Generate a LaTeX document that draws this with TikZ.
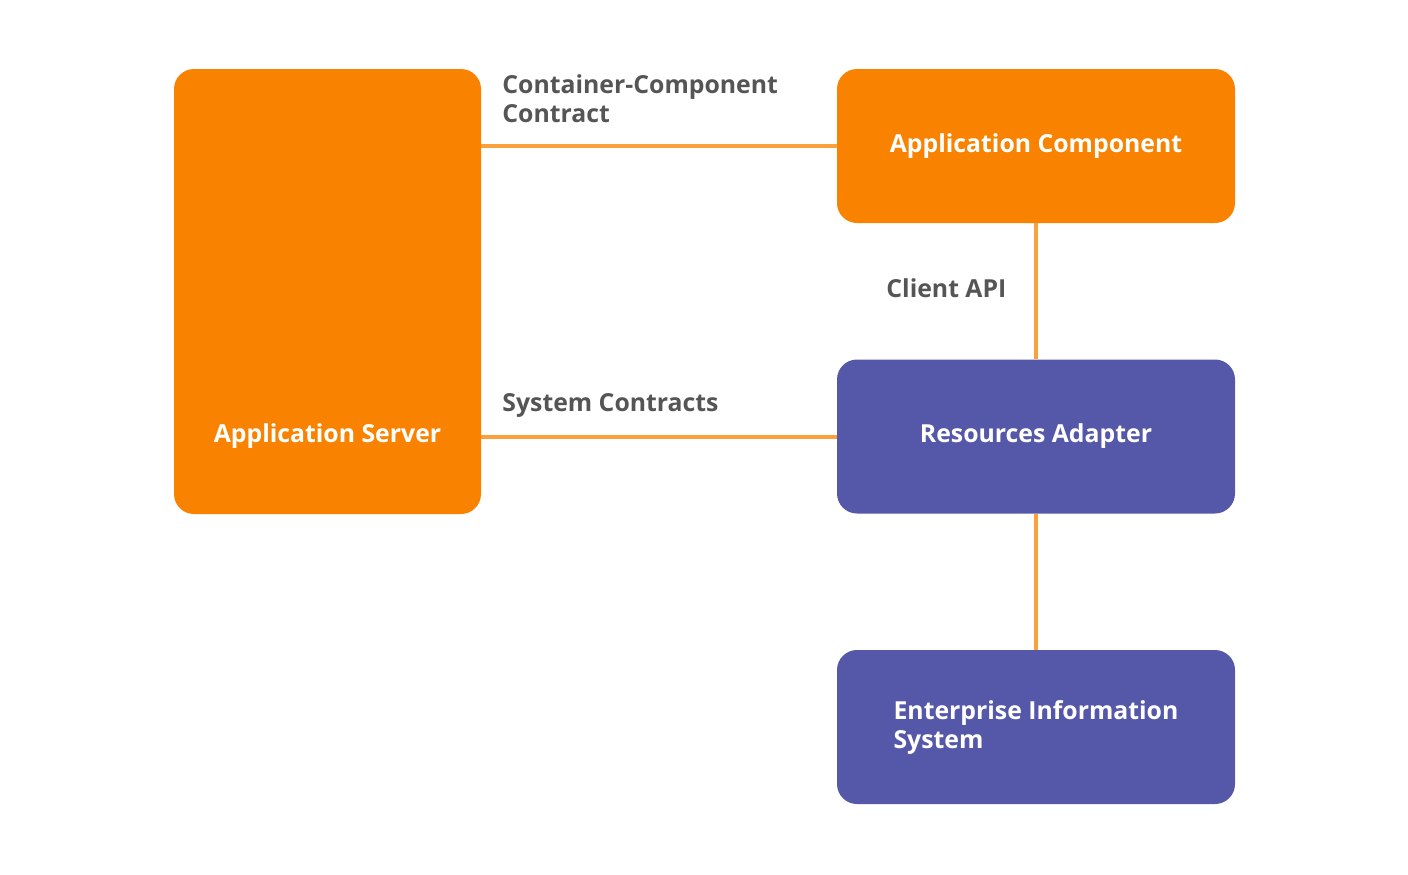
\documentclass[tikz,border=0pt]{standalone}
\usepackage{fontspec}
\setmainfont{Open Sans}
\usepackage{tikz}
\definecolor{jcaorange}{HTML}{F98300}
\definecolor{jcapurple}{HTML}{5558A8}
\definecolor{jcaline}{HTML}{FBA03A}
\definecolor{jcagray}{HTML}{555555}

\tikzset{
  block/.style={rounded corners=10pt, inner sep=0pt, minimum width=199pt, minimum height=77pt,
    text=white, font=\bfseries\fontsize{12.4}{14.5}\selectfont, align=left},
  orangeblock/.style={block, fill=jcaorange},
  purpleblock/.style={block, fill=jcapurple},
  wire/.style={draw=jcaline, line width=2pt},
  contract/.style={inner sep=0pt, text=jcagray, font=\bfseries\fontsize{12.4}{14.5}\selectfont, align=left}
}

\begin{document}
\begin{tikzpicture}[x=0.5pt, y=-0.5pt]
\useasboundingbox (0,0) rectangle (1408,874);

% boxes
\node[orangeblock, minimum width=153.5pt, minimum height=222.5pt] (srv) at (327.5,291.5) {};
\node[orangeblock] (comp) at (1036,146) {Application Component};
\node[purpleblock] (ra) at (1036,436.5) {Resources Adapter};
\node[purpleblock] (eis) at (1036,727) {Enterprise Information\\System};
\node[text=white, inner sep=0pt, font=\bfseries\fontsize{12.4}{14.5}\selectfont] (srvlabel) at (srv.center |- ra.center) {Application Server};

% connectors
\draw[wire] (srv.east |- comp.west) -- (comp.west);
\draw[wire] (srv.east |- ra.west) -- (ra.west);
\draw[wire] (comp.south) -- (ra.north);
\draw[wire] (ra.south) -- (eis.north);

% labels
\node[contract, anchor=north west] (cclabel) at (502,74) {Container-Component\\Contract};
\node[contract, anchor=base west] (sclabel) at (502,411) {System Contracts};
\node[contract, anchor=base west] (apilabel) at (886,297) {Client API};
\end{tikzpicture}
\end{document}
